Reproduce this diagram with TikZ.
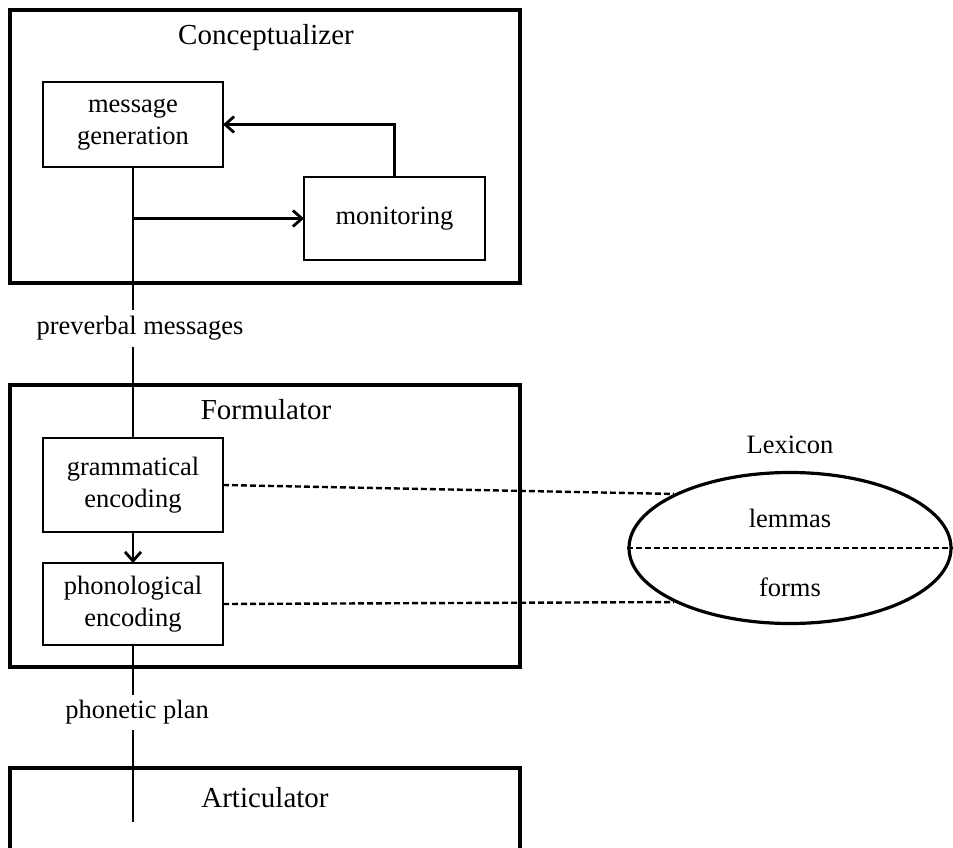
\documentclass[tikz,border=0pt]{standalone}
\usepackage{fontspec}
\setmainfont{Liberation Serif}
\usetikzlibrary{arrows.meta,shapes.geometric}
\tikzset{
  outerbox/.style={draw, line width=4pt, inner sep=0pt, outer sep=0pt},
  innerbox/.style={draw, line width=2.8pt, inner sep=0pt, outer sep=0pt, align=center,
    font=\fontsize{26.5}{32}\selectfont},
  title/.style={font=\fontsize{29}{34}\selectfont, inner sep=0pt},
  lbl/.style={font=\fontsize{26.5}{32}\selectfont, inner sep=0pt},
  conn/.style={line width=2.8pt},
  arr/.style={conn, -{Straight Barb[length=9pt,width=16pt,line width=2.8pt]}},
  dash line/.style={line width=2.4pt, dash pattern=on 6pt off 3pt},
}
\begin{document}
\begin{tikzpicture}[x=1pt,y=-1pt]
\useasboundingbox (0,0) rectangle (953,848);
\clip (0,0) rectangle (953,848);
% Conceptualizer
\node[outerbox, minimum width=510pt, minimum height=273pt] (conc) at (265,146.5) {};
\node[title] (conct) at (266,38) {Conceptualizer};
\node[innerbox, minimum width=180pt, minimum height=85pt] (msg) at (133,124.5) {message\\generation};
\node[innerbox, minimum width=181pt, minimum height=83pt] (mon) at (394.5,218.5) {monitoring};
\coordinate (br) at (133,218.5);
\draw[arr] (mon.north) |- (msg.east);
\draw[arr] (br) -- (mon.west);
% preverbal messages
\node[lbl, minimum height=37pt] (pm) at (140,328.5) {preverbal messages};
\draw[conn] (msg.south) -- (msg.south |- pm.north);
% Formulator
\node[outerbox, minimum width=510pt, minimum height=282pt] (form) at (265,526) {};
\node[title] (formt) at (266,410) {Formulator};
\node[innerbox, minimum width=180pt, minimum height=94pt] (gram) at (133,485) {grammatical\\encoding};
\node[innerbox, minimum width=180pt, minimum height=82pt] (phon) at (133,604) {phonological\\encoding};
\draw[conn] (msg.south |- pm.south) -- (gram.north);
\draw[arr] (gram.south) -- (phon.north);
% phonetic plan
\node[lbl, minimum height=35pt] (pp) at (137,712.5) {phonetic plan};
\draw[conn] (phon.south) -- (phon.south |- pp.north);
% Articulator
\node[outerbox, minimum width=510pt, minimum height=200pt] (art) at (265,868) {};
\node[title] (artt) at (265,798) {Articulator};
\coordinate (artend) at (133,822);
\draw[conn] (phon.south |- pp.south) -- (artend);
% Lexicon
\node[draw, ellipse, line width=3.2pt, inner sep=0pt, minimum width=322pt, minimum height=151pt] (lex) at (790,548) {};
\node[lbl] (lext) at (790,445) {Lexicon};
\node[lbl] (lem) at (790,518) {lemmas};
\node[lbl] (frm) at (790,587) {forms};
\draw[dash line] (lex.west) -- (lex.east);
\draw[dash line] (gram.east) -- (lex.155);
\draw[dash line] (phon.east) -- (lex.205);
\end{tikzpicture}
\end{document}
